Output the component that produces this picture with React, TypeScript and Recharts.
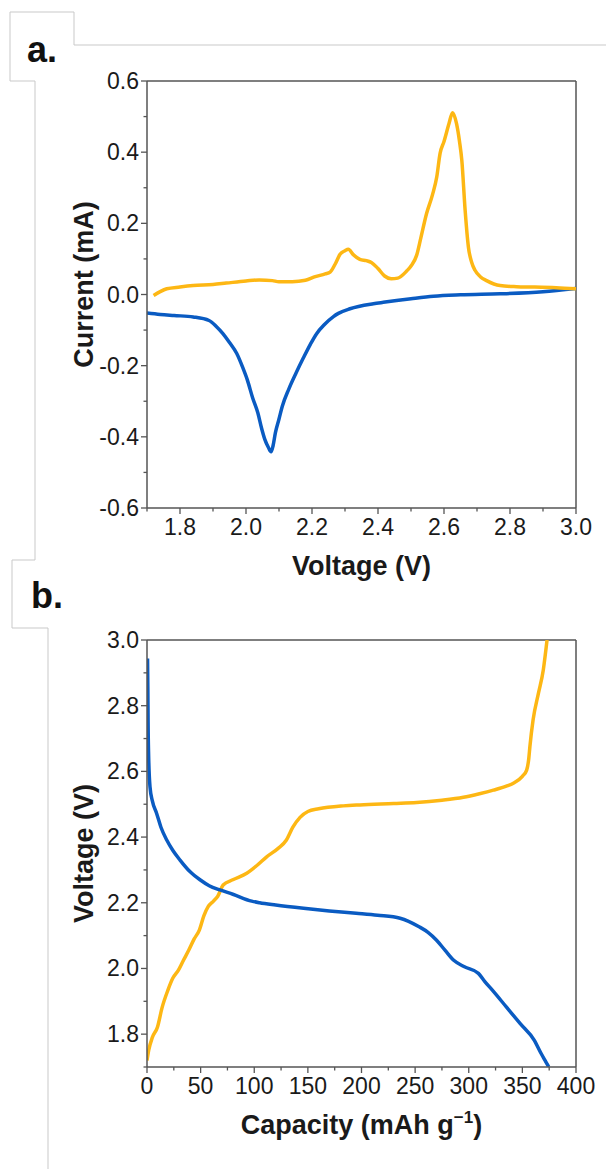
import React from 'react';
import { LineChart, Line, XAxis, YAxis, ReferenceLine } from 'recharts';

// panel a: cyclic voltammogram
const cvAnodicV = [1.72, 1.74, 1.76, 1.8, 1.84, 1.9, 1.94, 2.0, 2.04, 2.08, 2.1, 2.14, 2.18, 2.21, 2.24, 2.255, 2.27, 2.285, 2.3, 2.31, 2.325, 2.345, 2.365, 2.38, 2.4, 2.42, 2.44, 2.46, 2.487, 2.5, 2.517, 2.53, 2.547, 2.565, 2.578, 2.588, 2.6, 2.615, 2.626, 2.638, 2.647, 2.654, 2.664, 2.674, 2.684, 2.694, 2.71, 2.729, 2.77, 2.82, 2.87, 2.94, 3.0];
const cvAnodicI = [-0.003, 0.008, 0.016, 0.021, 0.025, 0.028, 0.032, 0.038, 0.041, 0.039, 0.036, 0.036, 0.04, 0.05, 0.058, 0.063, 0.085, 0.113, 0.123, 0.127, 0.112, 0.099, 0.095, 0.09, 0.073, 0.052, 0.044, 0.046, 0.066, 0.08, 0.11, 0.16, 0.227, 0.28, 0.33, 0.396, 0.43, 0.48, 0.511, 0.48, 0.43, 0.377, 0.237, 0.133, 0.09, 0.068, 0.05, 0.039, 0.025, 0.022, 0.021, 0.019, 0.016];

const cvCathodicV = [1.7, 1.74, 1.782, 1.84, 1.888, 1.91, 1.93, 1.95, 1.972, 1.99, 2.004, 2.02, 2.036, 2.047, 2.057, 2.068, 2.076, 2.082, 2.089, 2.1, 2.11, 2.13, 2.152, 2.174, 2.195, 2.214, 2.237, 2.265, 2.28, 2.315, 2.386, 2.416, 2.5, 2.568, 2.65, 2.77, 2.9, 3.0];
const cvCathodicI = [-0.052, -0.056, -0.059, -0.063, -0.073, -0.09, -0.11, -0.135, -0.166, -0.205, -0.24, -0.29, -0.333, -0.375, -0.407, -0.43, -0.442, -0.425, -0.389, -0.35, -0.314, -0.265, -0.22, -0.178, -0.14, -0.11, -0.085, -0.062, -0.053, -0.04, -0.026, -0.022, -0.012, -0.005, -0.001, 0.002, 0.008, 0.017];

const aXMajor = [1.8, 2.0, 2.2, 2.4, 2.6, 2.8, 3.0];
const aXTicks = [1.7, 1.8, 1.9, 2.0, 2.1, 2.2, 2.3, 2.4, 2.5, 2.6, 2.7, 2.8, 2.9, 3.0];
const aYMajor = [-0.6, -0.4, -0.2, 0.0, 0.2, 0.4, 0.6];
const aYTicks = [-0.6, -0.5, -0.4, -0.3, -0.2, -0.1, 0.0, 0.1, 0.2, 0.3, 0.4, 0.5, 0.6];

// panel b: charge / discharge profiles
const dischargeCap = [0.5, 0.8, 1.0, 1.5, 2.8, 5, 9, 13, 18.4, 24, 30.8, 40, 49.4, 58, 68, 80, 97.6, 105, 120, 146, 170, 195, 215, 236, 253.7, 262, 270, 278, 286, 296, 309, 315, 322, 335, 348, 361, 367.5, 372, 374.6];
const dischargeV = [2.944, 2.85, 2.757, 2.65, 2.553, 2.51, 2.472, 2.43, 2.391, 2.36, 2.33, 2.295, 2.27, 2.252, 2.239, 2.226, 2.205, 2.2, 2.193, 2.183, 2.175, 2.168, 2.162, 2.153, 2.127, 2.11, 2.086, 2.055, 2.025, 2.005, 1.985, 1.96, 1.934, 1.883, 1.832, 1.782, 1.741, 1.715, 1.7];

const chargeCap = [0, 1.6, 5, 9.8, 14, 19.5, 24, 29.3, 34, 39, 44, 48.8, 53, 57, 62, 66, 71, 80, 93, 103, 111.6, 122, 130, 136, 142.7, 150, 160, 183, 198.6, 230, 251.5, 275, 295, 310, 323, 335, 341.6, 350, 354, 356, 357, 360, 365, 369.5, 373];
const chargeV = [1.72, 1.751, 1.79, 1.822, 1.88, 1.934, 1.97, 1.995, 2.025, 2.056, 2.09, 2.117, 2.16, 2.188, 2.205, 2.22, 2.254, 2.27, 2.29, 2.315, 2.34, 2.365, 2.391, 2.43, 2.46, 2.478, 2.486, 2.495, 2.498, 2.502, 2.505, 2.512, 2.521, 2.532, 2.543, 2.555, 2.564, 2.585, 2.604, 2.64, 2.675, 2.757, 2.838, 2.909, 3.0];

const bXMajor = [0, 50, 100, 150, 200, 250, 300, 350, 400];
const bXTicks = [0, 25, 50, 75, 100, 125, 150, 175, 200, 225, 250, 275, 300, 325, 350, 375, 400];
const bYMajor = [1.8, 2.0, 2.2, 2.4, 2.6, 2.8, 3.0];
const bYTicks = [1.7, 1.8, 1.9, 2.0, 2.1, 2.2, 2.3, 2.4, 2.5, 2.6, 2.7, 2.8, 2.9, 3.0];

const ORANGE = '#FDB714';
const BLUE = '#0A5BC2';
const AXIS = '#555';
const INK = '#1a1a1a';
const FONT = '"Liberation Sans", Arial, sans-serif';
const DECO = '#c9c9c9';

const zip = (xs: number[], ys: number[]) => xs.map((x, i) => ({ x, y: ys[i] }));
const isIn = (list: number[], v: number) => list.some((m) => Math.abs(m - v) < 1e-6);

const XTick = ({ x, y, payload, major, digits }: any) => {
  const big = isIn(major, payload.value);
  return (
    <g>
      <line x1={x} x2={x} y1={y} y2={y + (big ? 6 : 3.5)} stroke={AXIS} strokeWidth={1.3} />
      {big && (
        <text x={x} y={y + 27} textAnchor="middle" fontSize={23} fontFamily={FONT} fill={INK}>
          {payload.value.toFixed(digits)}
        </text>
      )}
    </g>
  );
};

const YTick = ({ x, y, payload, major }: any) => {
  const big = isIn(major, payload.value);
  return (
    <g>
      <line x1={x - (big ? 6 : 3.5)} x2={x} y1={y} y2={y} stroke={AXIS} strokeWidth={1.3} />
      {big && (
        <text x={x - 8} y={y + 8} textAnchor="end" fontSize={23} fontFamily={FONT} fill={INK}>
          {payload.value.toFixed(1)}
        </text>
      )}
    </g>
  );
};

const xTitle = (text: React.ReactNode) => (props: any) => {
  const vb = props.viewBox;
  return (
    <text x={vb.x + vb.width / 2} y={vb.y + 67} textAnchor="middle" fontSize={27} fontWeight="bold" fontFamily={FONT} fill={INK}>
      {text}
    </text>
  );
};

const yTitle = (text: string, shift: number) => (props: any) => {
  const vb = props.viewBox;
  const cx = vb.x + 6;
  const cy = vb.y + vb.height / 2 + shift;
  return (
    <text x={cx} y={cy} transform={`rotate(-90 ${cx} ${cy})`} textAnchor="middle" fontSize={27} fontWeight="bold" fontFamily={FONT} fill={INK}>
      {text}
    </text>
  );
};

const App = () => {
  return (
    <div style={{ position: 'absolute', left: 0, top: 0, width: 606, height: 1169, background: '#fff', overflow: 'hidden' }}>
      <svg width={606} height={1169} style={{ position: 'absolute', left: 0, top: 0 }}>
        <polyline points="10,81 10,12 74,12 74,45 606,45" fill="none" stroke={DECO} strokeWidth={1} />
        <polyline points="10,81 35,81 35,560 12,560 12,628 48,628 48,1169" fill="none" stroke={DECO} strokeWidth={1} />
        <text x={27} y={62} fontSize={36} fontWeight="bold" fontFamily={FONT} fill="#111">a.</text>
        <text x={31} y={608} fontSize={36} fontWeight="bold" fontFamily={FONT} fill="#111">b.</text>
      </svg>

      <div style={{ position: 'absolute', left: 0, top: 0 }}>
        <LineChart width={606} height={590} margin={{ top: 81, right: 30, left: 87, bottom: 22 }}>
          <XAxis
            dataKey="x"
            type="number"
            domain={[1.7, 3.0]}
            ticks={aXTicks}
            interval={0}
            allowDataOverflow
            tickSize={0}
            tickMargin={0}
            height={60}
            axisLine={{ stroke: AXIS, strokeWidth: 1.5 }}
            tickLine={false}
            tick={(p: any) => <XTick {...p} major={aXMajor} digits={1} />}
            label={xTitle('Voltage (V)')}
          />
          <YAxis
            type="number"
            domain={[-0.6, 0.6]}
            ticks={aYTicks}
            interval={0}
            allowDataOverflow
            tickSize={0}
            tickMargin={0}
            width={60}
            axisLine={{ stroke: AXIS, strokeWidth: 1.5 }}
            tickLine={false}
            tick={(p: any) => <YTick {...p} major={aYMajor} />}
            label={yTitle('Current (mA)', -10)}
          />
          <ReferenceLine y={0.6} stroke={AXIS} strokeWidth={1.5} />
          <ReferenceLine x={3.0} stroke={AXIS} strokeWidth={1.5} />
          <Line data={zip(cvCathodicV, cvCathodicI)} dataKey="y" type="monotone" stroke={BLUE} strokeWidth={3.5} dot={false} isAnimationActive={false} />
          <Line data={zip(cvAnodicV, cvAnodicI)} dataKey="y" type="monotone" stroke={ORANGE} strokeWidth={3.5} dot={false} isAnimationActive={false} />
        </LineChart>
      </div>

      <div style={{ position: 'absolute', left: 0, top: 560 }}>
        <LineChart width={606} height={609} margin={{ top: 80, right: 30, left: 87, bottom: 42 }}>
          <XAxis
            dataKey="x"
            type="number"
            domain={[0, 400]}
            ticks={bXTicks}
            interval={0}
            allowDataOverflow
            tickSize={0}
            tickMargin={0}
            height={60}
            axisLine={{ stroke: AXIS, strokeWidth: 1.5 }}
            tickLine={false}
            tick={(p: any) => <XTick {...p} major={bXMajor} digits={0} />}
            label={xTitle(
              <>
                Capacity (mAh g
                <tspan dy={-11} fontSize={17}>−1</tspan>
                <tspan dy={11}>)</tspan>
              </>
            )}
          />
          <YAxis
            type="number"
            domain={[1.7, 3.0]}
            ticks={bYTicks}
            interval={0}
            allowDataOverflow
            tickSize={0}
            tickMargin={0}
            width={60}
            axisLine={{ stroke: AXIS, strokeWidth: 1.5 }}
            tickLine={false}
            tick={(p: any) => <YTick {...p} major={bYMajor} />}
            label={yTitle('Voltage (V)', 0)}
          />
          <ReferenceLine y={3.0} stroke={AXIS} strokeWidth={1.5} />
          <ReferenceLine x={400} stroke={AXIS} strokeWidth={1.5} />
          <Line data={zip(chargeCap, chargeV)} dataKey="y" type="monotone" stroke={ORANGE} strokeWidth={3.5} dot={false} isAnimationActive={false} />
          <Line data={zip(dischargeCap, dischargeV)} dataKey="y" type="monotone" stroke={BLUE} strokeWidth={3.5} dot={false} isAnimationActive={false} />
        </LineChart>
      </div>
    </div>
  );
};

export default App;
